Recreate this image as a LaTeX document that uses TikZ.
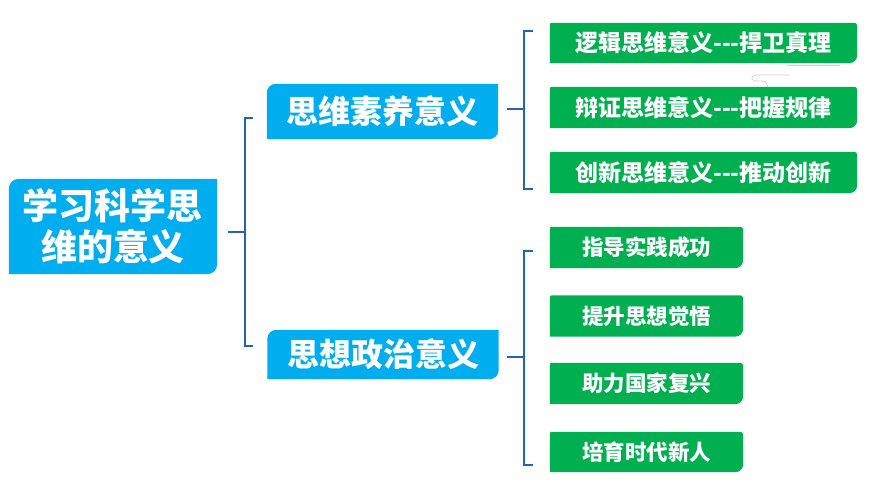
\documentclass[tikz,border=0pt]{standalone}
\usepackage{fontspec}
\newfontfamily\cjk{Noto Sans CJK SC}
\usetikzlibrary{calc}
\pgfdeclarelayer{bg}
\pgfsetlayers{bg,main}
\definecolor{bluebox}{HTML}{00ADEF}
\definecolor{greenbox}{HTML}{00B050}
\definecolor{linkc}{HTML}{2463AF}
\newcommand\blob[6]{%
\begin{pgfonlayer}{bg}
\fill[#2] ($(#1.north west)+(0,-#3)$) arc[start angle=180,end angle=90,radius=#3]
  -- ($(#1.north east)+(-#4,0)$) arc[start angle=90,end angle=0,radius=#4]
  -- ($(#1.south east)+(0,#5)$) arc[start angle=0,end angle=-90,radius=#5]
  -- ($(#1.south west)+(#6,0)$) arc[start angle=270,end angle=180,radius=#6] -- cycle;
\end{pgfonlayer}}
\newcommand\dsh{-\kern0pt-\kern0pt-}
\tikzset{
  boxbase/.style={rectangle, inner sep=0pt, text=white, align=center},
  rootbox/.style={boxbase, minimum width=208pt, minimum height=95pt, font=\cjk\bfseries\fontsize{36}{41}\selectfont},
  topicbox/.style={boxbase, minimum width=231pt, font=\cjk\bfseries\fontsize{32}{36}\selectfont},
  leafA/.style={boxbase, minimum width=307pt, minimum height=41pt, font=\cjk\bfseries\fontsize{23}{27}\selectfont},
  leafB/.style={boxbase, minimum width=193pt, minimum height=41pt, font=\cjk\bfseries\fontsize{21.5}{25}\selectfont},
  link/.style={draw=linkc, line width=2.6pt},
  ghost/.style={draw=gray!35, line width=0.7pt}
}
\begin{document}
\begin{tikzpicture}[x=1pt,y=1pt]
\begin{pgfonlayer}{bg}
\fill[white] (0,0) rectangle (889,-482);
\end{pgfonlayer}
\useasboundingbox (0,0) rectangle (889,-482);

\node[rootbox] (root) at (113,-226.5) {学习科学思\\维的意义};
\blob{root}{bluebox}{10pt}{0.1pt}{10pt}{0.1pt}

\node[topicbox, minimum height=55pt] (t1) at (382.5,-111.5) {思维素养意义};
\node[topicbox, minimum height=49pt] (t2) at (383,-354.5) {思想政治意义};
\blob{t1}{bluebox}{9pt}{0.1pt}{9pt}{0.1pt}
\blob{t2}{bluebox}{9pt}{0.1pt}{9pt}{0.1pt}

\node[leafA, minimum height=40pt] (a1) at (703.5,-43) {逻辑思维意义\dsh 捍卫真理};
\node[leafA] (a2) at (703.5,-107.5) {辩证思维意义\dsh 把握规律};
\node[leafA] (a3) at (703.5,-172.5) {创新思维意义\dsh 推动创新};
\foreach \n in {a1,a2,a3}{\blob{\n}{greenbox}{2pt}{3pt}{8pt}{0.1pt}}

\node[leafB] (b1) at (646.5,-247.5) {指导实践成功};
\node[leafB] (b2) at (646.5,-316) {提升思想觉悟};
\node[leafB] (b3) at (646.5,-383.5) {助力国家复兴};
\node[leafB, minimum height=40pt] (b4) at (646.5,-452) {培育时代新人};
\foreach \n in {b1,b2,b3,b4}{\blob{\n}{greenbox}{2pt}{3pt}{8pt}{0.1pt}}

% bracket from root
\coordinate (s0) at (228,-232);
\coordinate (m0) at (245,-232);
\coordinate (u0) at (253,-118);
\coordinate (d0) at (253,-346);
\draw[link] (s0) -- (m0);
\draw[link] (u0) -- (u0 -| m0) -- (d0 -| m0) -- (d0);

% bracket from t1
\coordinate (s1) at (507,-109);
\coordinate (m1) at (524,-109);
\coordinate (u1) at (533,-31);
\coordinate (d1) at (533,-189);
\draw[link] (s1) -- (m1);
\draw[link] (u1) -- (u1 -| m1) -- (d1 -| m1) -- (d1);

% bracket from t2
\coordinate (s2) at (507,-357);
\coordinate (m2) at (524,-357);
\coordinate (u2) at (533,-251);
\coordinate (d2) at (533,-465);
\draw[link] (s2) -- (m2);
\draw[link] (u2) -- (u2 -| m2) -- (d2 -| m2) -- (d2);

% faint trace between first two green boxes
\draw[ghost] (787,-65) -- (840,-65);
\draw[ghost] (790,-75) -- (757,-75) .. controls (750,-75) and (750,-81) .. (757,-81) -- (762,-81) .. controls (766,-81) and (767,-84) .. (768,-87);
\end{tikzpicture}
\end{document}
